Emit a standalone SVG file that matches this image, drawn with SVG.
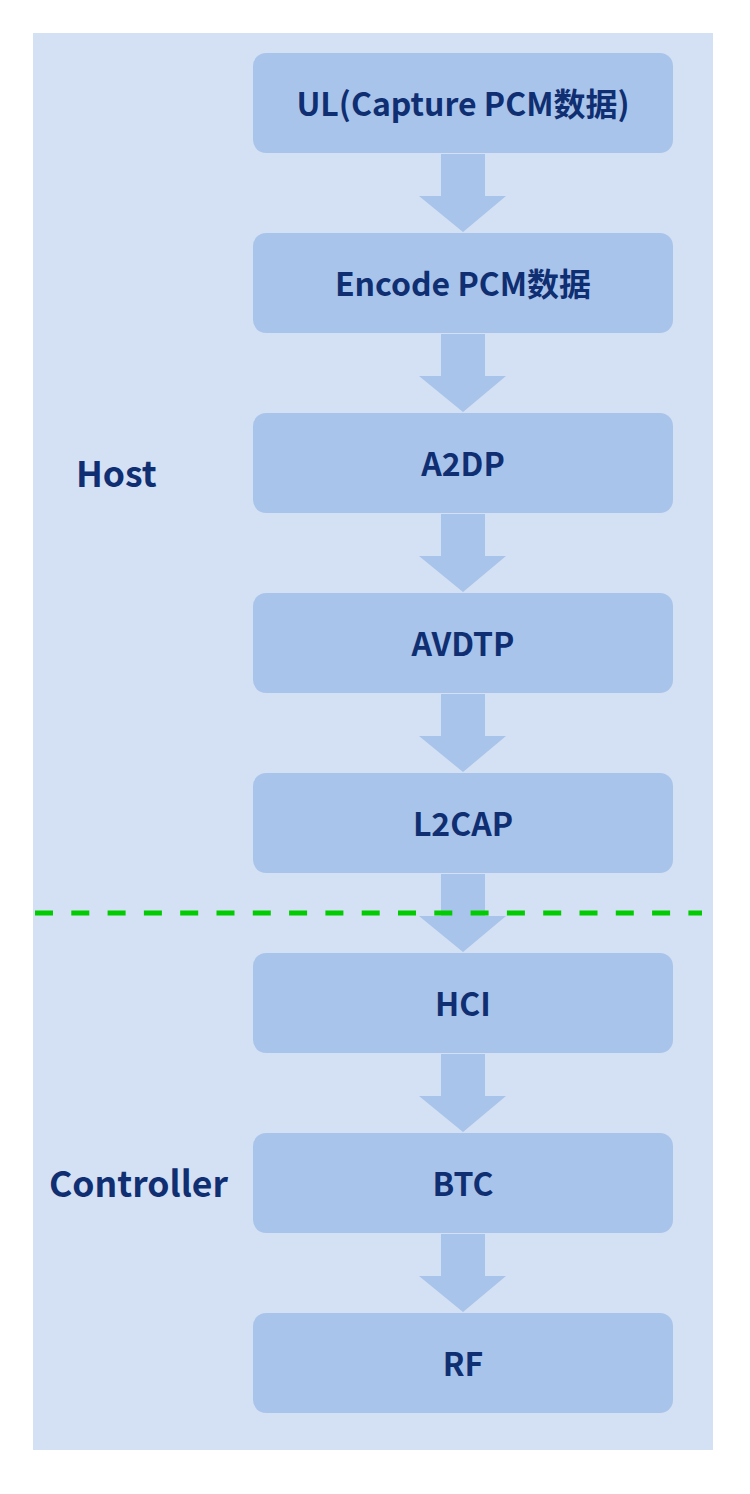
<svg xmlns="http://www.w3.org/2000/svg" width="750" height="1494" viewBox="0 0 750 1494">
<style>
.node{fill:#a9c4ea}
.t{font-family:"Noto Sans CJK SC","Noto Sans",sans-serif;font-weight:bold;font-size:32px;fill:#0f2f72;text-anchor:middle;dominant-baseline:central}
.lab{font-family:"Noto Sans CJK SC","Noto Sans",sans-serif;font-weight:bold;font-size:35.5px;fill:#0f2f72}
.arr{fill:#a9c4ea}
</style>
<defs>
<path id="ar" d="M441 154 H485 V196 H506 L463 232 L419 196 H441 Z"/>
</defs>
<rect x="33" y="33" width="680" height="1417" fill="#d4e0f3"/>
<text class="lab" x="76" y="487">Host</text>
<text class="lab" x="49" y="1197">Controller</text>
<g id="connectors" class="arr">
<use href="#ar"/>
<use href="#ar" y="180"/>
<use href="#ar" y="360"/>
<use href="#ar" y="540"/>
<use href="#ar" y="720"/>
<use href="#ar" y="900"/>
<use href="#ar" y="1080"/>
</g>
<g id="n1"><rect class="node" x="253" y="53" width="420" height="100" rx="13"/><text class="t" x="463" y="102">UL(Capture PCM数据)</text></g>
<g id="n2"><rect class="node" x="253" y="233" width="420" height="100" rx="13"/><text class="t" x="463" y="282">Encode PCM数据</text></g>
<g id="n3"><rect class="node" x="253" y="413" width="420" height="100" rx="13"/><text class="t" x="463" y="462">A2DP</text></g>
<g id="n4"><rect class="node" x="253" y="593" width="420" height="100" rx="13"/><text class="t" x="463" y="642">AVDTP</text></g>
<g id="n5"><rect class="node" x="253" y="773" width="420" height="100" rx="13"/><text class="t" x="463" y="822">L2CAP</text></g>
<g id="n6"><rect class="node" x="253" y="953" width="420" height="100" rx="13"/><text class="t" x="463" y="1002">HCI</text></g>
<g id="n7"><rect class="node" x="253" y="1133" width="420" height="100" rx="13"/><text class="t" x="463" y="1182">BTC</text></g>
<g id="n8"><rect class="node" x="253" y="1313" width="420" height="100" rx="13"/><text class="t" x="463" y="1362">RF</text></g>
<line id="divider" x1="35" y1="913" x2="702" y2="913" stroke="#00cc00" stroke-width="5" stroke-dasharray="18 18.3"/>
</svg>
